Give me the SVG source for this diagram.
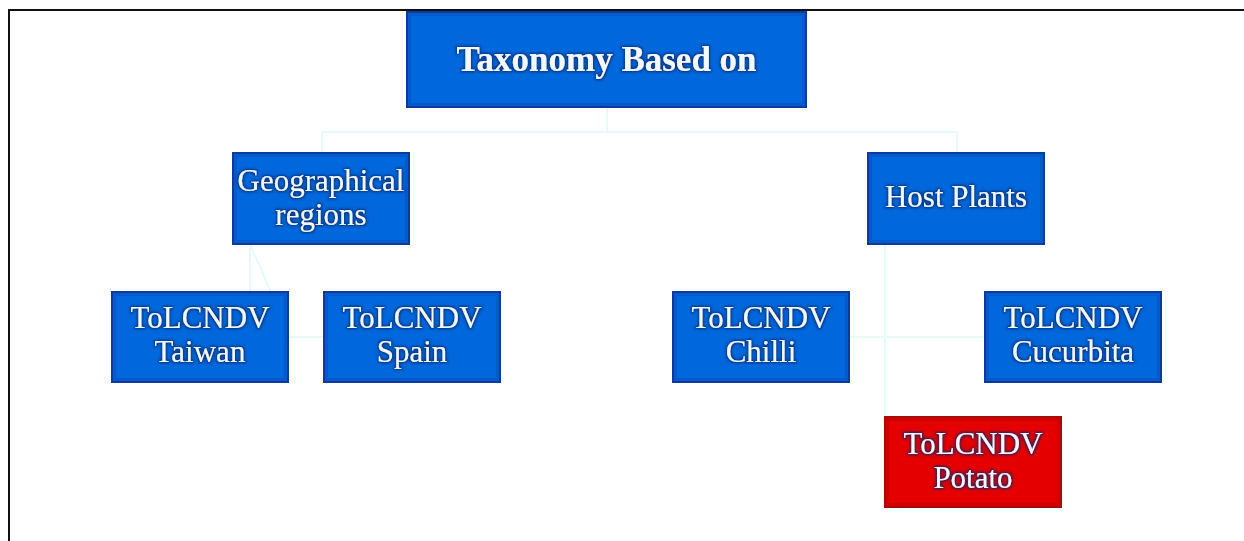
<svg xmlns="http://www.w3.org/2000/svg" width="1244" height="541" viewBox="0 0 1244 541">
<style>
.frame{stroke:#111;stroke-width:2;fill:none}
.conn{stroke:#e6fafa;stroke-width:2;fill:none}
.box{fill:#0068dc;stroke:#0b3b9e;stroke-width:2}
.red{fill:#e50000;stroke:#a80a0a;stroke-width:2}
.inner{fill:none;stroke:#0552c4;stroke-width:3;opacity:0.7}
.innerred{fill:none;stroke:#c80000;stroke-width:3;opacity:0.7}
text{font-family:"Liberation Serif","Times New Roman",serif;fill:#f2f8ff;text-anchor:middle;font-size:31px;filter:url(#glow)}
.title{font-weight:bold;font-size:35px}
</style>
<defs>
<filter id="glow" x="-10%" y="-30%" width="120%" height="160%">
<feMorphology in="SourceAlpha" operator="dilate" radius="1" result="d"/>
<feGaussianBlur in="d" stdDeviation="1.5" result="b"/>
<feFlood flood-color="#0a2a70" flood-opacity="0.9"/>
<feComposite in2="b" operator="in" result="s"/>
<feMerge><feMergeNode in="s"/><feMergeNode in="SourceGraphic"/></feMerge>
</filter>
</defs>
<rect width="1244" height="541" fill="#ffffff"/>
<path class="frame" d="M9,541 V10 H1244"/>
<g id="connectors">
<path class="conn" d="M607,107 V132 M322,132 H957 M322,132 V153 M957,132 V153"/>
<path class="conn" d="M250,244 L271,292 M250,244 V292 M288,337 H324"/>
<path class="conn" d="M885,244 V417 M849,337 H985"/>
</g>
<g id="taxonomy">
<rect class="box" x="407" y="12" width="399" height="95"/>
<rect class="inner" x="409.5" y="14.5" width="394" height="90"/>
<text class="title" x="606.5" y="71">Taxonomy Based on</text>
</g>
<g id="geographical">
<rect class="box" x="233" y="153" width="176" height="91"/>
<rect class="inner" x="235.5" y="155.5" width="171" height="86"/>
<text x="321" y="191">Geographical</text>
<text x="321" y="225">regions</text>
</g>
<g id="host-plants">
<rect class="box" x="868" y="153" width="176" height="91"/>
<rect class="inner" x="870.5" y="155.5" width="171" height="86"/>
<text x="956" y="207">Host Plants</text>
</g>
<g id="taiwan">
<rect class="box" x="112" y="292" width="176" height="90"/>
<rect class="inner" x="114.5" y="294.5" width="171" height="85"/>
<text x="200" y="328">ToLCNDV</text>
<text x="200" y="362">Taiwan</text>
</g>
<g id="spain">
<rect class="box" x="324" y="292" width="176" height="90"/>
<rect class="inner" x="326.5" y="294.5" width="171" height="85"/>
<text x="412" y="328">ToLCNDV</text>
<text x="412" y="362">Spain</text>
</g>
<g id="chilli">
<rect class="box" x="673" y="292" width="176" height="90"/>
<rect class="inner" x="675.5" y="294.5" width="171" height="85"/>
<text x="761" y="328">ToLCNDV</text>
<text x="761" y="362">Chilli</text>
</g>
<g id="cucurbita">
<rect class="box" x="985" y="292" width="176" height="90"/>
<rect class="inner" x="987.5" y="294.5" width="171" height="85"/>
<text x="1073" y="328">ToLCNDV</text>
<text x="1073" y="362">Cucurbita</text>
</g>
<g id="potato">
<rect class="red" x="885" y="417" width="176" height="90"/>
<rect class="innerred" x="887.5" y="419.5" width="171" height="85"/>
<text x="973" y="454">ToLCNDV</text>
<text x="973" y="488">Potato</text>
</g>
</svg>
